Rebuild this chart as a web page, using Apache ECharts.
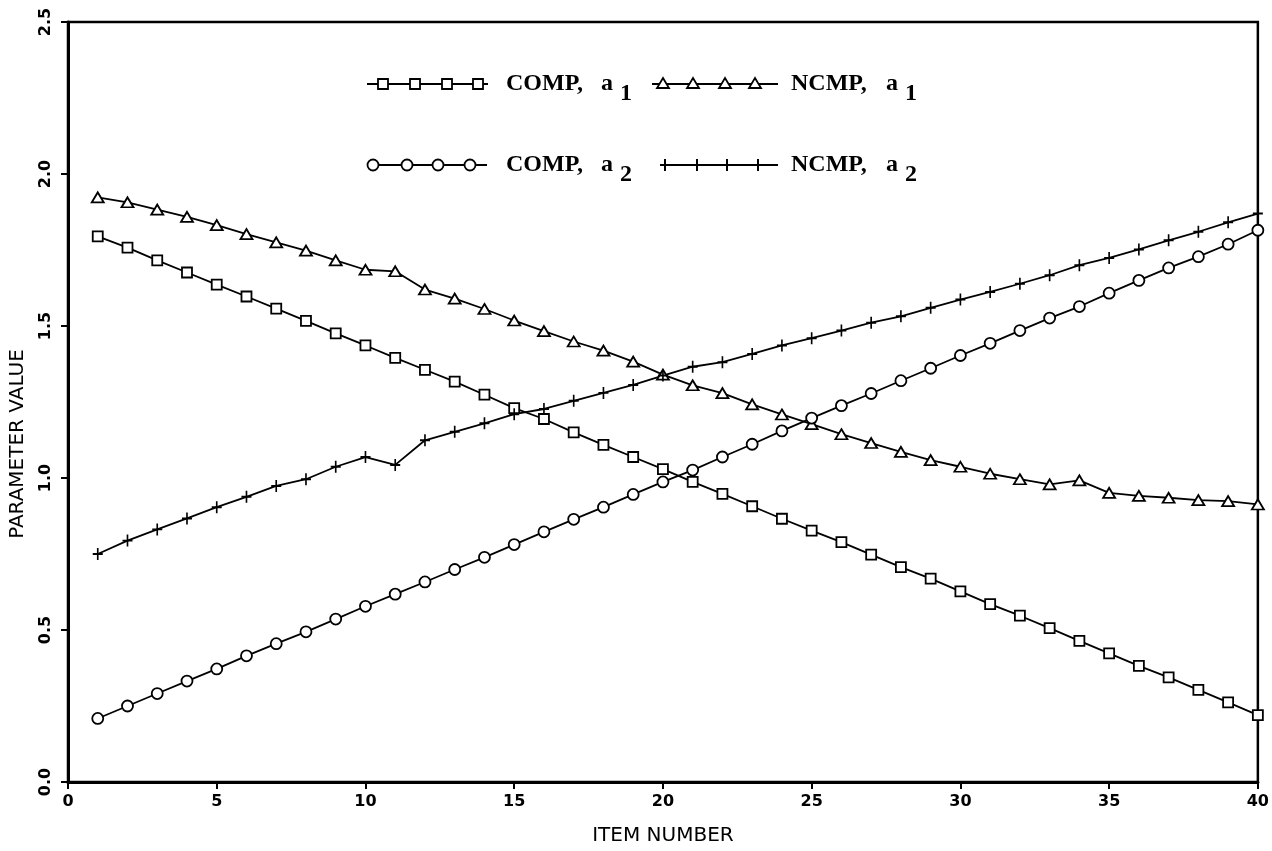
<!DOCTYPE html>
<html>
<head>
<meta charset="utf-8">
<script src="https://cdn.jsdelivr.net/npm/echarts@6/dist/echarts.min.js"></script>
<style>
  html,body{margin:0;padding:0;background:#fff;}
  #chart{width:1272px;height:851px;}
</style>
</head>
<body>
<div id="chart"></div>
<script>
// 项目编号
var itemNo = [1,2,3,4,5,6,7,8,9,10,11,12,13,14,15,16,17,18,19,20,
  21,22,23,24,25,26,27,28,29,30,31,32,33,34,35,36,37,38,39,40];

// COMP, a1 (squares)
var compA1 = [1.795,1.758,1.716,1.676,1.636,1.597,1.557,1.517,1.476,1.436,
  1.395,1.356,1.317,1.274,1.230,1.194,1.150,1.109,1.069,1.029,
  0.987,0.948,0.907,0.866,0.827,0.789,0.748,0.707,0.669,0.627,
  0.585,0.547,0.506,0.464,0.423,0.382,0.344,0.303,0.262,0.220];

// NCMP, a1 (triangles)
var ncmpA1 = [1.923,1.907,1.883,1.859,1.832,1.802,1.775,1.748,1.716,1.685,
  1.680,1.620,1.590,1.556,1.518,1.483,1.449,1.419,1.383,1.340,
  1.305,1.279,1.242,1.209,1.177,1.144,1.115,1.086,1.059,1.037,
  1.014,0.996,0.979,0.992,0.951,0.941,0.935,0.927,0.924,0.913];

// COMP, a2 (circles)
var compA2 = [0.209,0.250,0.291,0.332,0.372,0.415,0.455,0.494,0.536,0.578,
  0.618,0.658,0.699,0.739,0.781,0.823,0.864,0.904,0.946,0.987,
  1.026,1.069,1.111,1.155,1.197,1.238,1.278,1.320,1.361,1.403,
  1.443,1.485,1.526,1.564,1.608,1.650,1.691,1.728,1.769,1.815];

// NCMP, a2 (crosses)
var ncmpA2 = [0.750,0.794,0.831,0.867,0.904,0.938,0.974,0.996,1.037,1.069,
  1.043,1.124,1.152,1.180,1.210,1.227,1.254,1.280,1.306,1.337,
  1.366,1.381,1.408,1.436,1.460,1.485,1.511,1.532,1.560,1.587,
  1.612,1.639,1.667,1.700,1.724,1.752,1.782,1.810,1.841,1.870];

var xTicks = {min:0, max:40, interval:5};
var yTicks = {min:0, max:2.5, interval:0.5};

var crossPath = 'path://M5,0L5,12M0,6L10,6';
var plotFont = '"DejaVu Sans", sans-serif';
var serifFont = '"Liberation Serif", serif';

function pairs(vals){
  var out = [];
  for (var i = 0; i < itemNo.length; i++) out.push([itemNo[i], vals[i]]);
  return out;
}

function mkSeries(name, vals, symbol, size, fill){
  return {
    name: name,
    type: 'line',
    data: pairs(vals),
    symbol: symbol,
    symbolSize: size,
    showSymbol: true,
    animation: false,
    lineStyle: {color:'#000', width:1.8},
    itemStyle: {color: fill, borderColor:'#000', borderWidth:1.8}
  };
}

/* 图例 (hand-drawn like the plotter legend) */
var legendRows = [
  {x1:367, x2:488, y:84, kind:'square', marks:[383,415,447,478], label:'COMP,', tx:506, sub:'1', ax:601, sx:620},
  {x1:652, x2:778, y:84, kind:'triangle', marks:[663,693,725,755], label:'NCMP,', tx:791, sub:'1', ax:886, sx:905},
  {x1:368, x2:487, y:165, kind:'circle', marks:[373,407,438,470], label:'COMP,', tx:506, sub:'2', ax:601, sx:620},
  {x1:660, x2:778, y:165, kind:'cross', marks:[665,697,727,758], label:'NCMP,', tx:791, sub:'2', ax:886, sx:905}
];

function markerShape(kind, cx, cy){
  var st = {fill:'#fff', stroke:'#000', lineWidth:1.8};
  if (kind === 'square') return {type:'rect', shape:{x:cx-5, y:cy-5, width:10, height:10}, style:st};
  if (kind === 'circle') return {type:'circle', shape:{cx:cx, cy:cy, r:5.5}, style:st};
  if (kind === 'triangle') return {type:'polygon', shape:{points:[[cx,cy-6],[cx+6,cy+4],[cx-6,cy+4]]}, style:st};
  return {type:'polyline', shape:{points:[[cx,cy-6],[cx,cy+6]]}, style:{stroke:'#000', lineWidth:2}};
}

var graphics = [];
legendRows.forEach(function(r){
  graphics.push({type:'line', shape:{x1:r.x1, y1:r.y, x2:r.x2, y2:r.y}, style:{stroke:'#000', lineWidth:1.8}});
  r.marks.forEach(function(mx){ graphics.push(markerShape(r.kind, mx, r.y)); });
  graphics.push({type:'text', x:r.tx, y:r.y, style:{text:r.label, font:'bold 24px ' + serifFont, fill:'#000', verticalAlign:'middle'}});
  graphics.push({type:'text', x:r.ax, y:r.y, style:{text:'a', font:'bold 24px ' + serifFont, fill:'#000', verticalAlign:'middle'}});
  graphics.push({type:'text', x:r.sx, y:r.y + 10, style:{text:r.sub, font:'bold 24px ' + serifFont, fill:'#000', verticalAlign:'middle'}});
});
graphics.push({type:'text', x:18, y:444, rotation:Math.PI/2,
  style:{text:'PARAMETER VALUE', font:'20px ' + plotFont, fill:'#000', align:'center', verticalAlign:'middle'}});

var myChart = echarts.init(document.getElementById('chart'));

var option = {
  backgroundColor: '#fff',
  animation: false,
  grid: {left:68, right:14, top:22, bottom:67, show:true, borderColor:'#000', borderWidth:2.5},
  xAxis: {
    type:'value', min:xTicks.min, max:xTicks.max, interval:xTicks.interval,
    name:'ITEM NUMBER', nameLocation:'middle', nameGap:44,
    nameTextStyle:{color:'#000', fontSize:20, fontFamily:plotFont},
    axisLine:{show:true, lineStyle:{color:'#000', width:3}},
    axisTick:{show:true, length:7, lineStyle:{color:'#000', width:2}},
    axisLabel:{color:'#000', fontSize:16, fontWeight:'bold', fontFamily:plotFont, margin:12},
    splitLine:{show:false}
  },
  yAxis: {
    type:'value', min:yTicks.min, max:yTicks.max, interval:yTicks.interval,
    axisLine:{show:true, lineStyle:{color:'#000', width:3}},
    axisTick:{show:true, length:7, lineStyle:{color:'#000', width:2}},
    axisLabel:{color:'#000', fontSize:16, fontWeight:'bold', fontFamily:plotFont, margin:14, rotate:90,
      formatter:function(v){ return v.toFixed(1); }},
    splitLine:{show:false}
  },
  graphic: graphics,
  series: [
    mkSeries('COMP, a1', compA1, 'rect', 10, '#fff'),
    mkSeries('NCMP, a1', ncmpA1, 'triangle', [12,10], '#fff'),
    mkSeries('COMP, a2', compA2, 'circle', 11, '#fff'),
    mkSeries('NCMP, a2', ncmpA2, crossPath, [10,12], '#000')
  ]
};

myChart.setOption(option, true);
</script>
</body>
</html>
